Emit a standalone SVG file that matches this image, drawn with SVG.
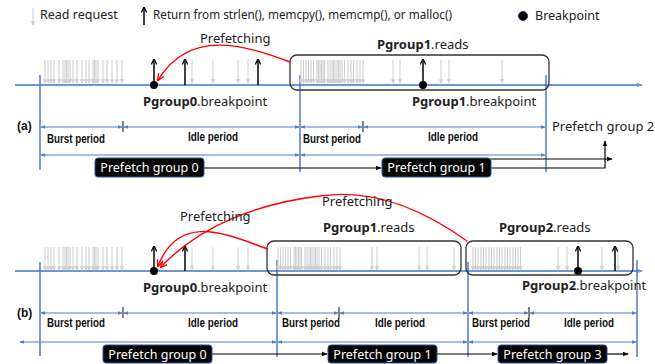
<svg xmlns="http://www.w3.org/2000/svg" width="655" height="364" viewBox="0 0 655 364">
<style>
text{font-family:"Noto Sans","Liberation Sans",sans-serif;fill:#222}
.lg{font-size:12.5px}
.lb{font-size:13px}
.b{font-weight:bold}
.dim{font-family:"Liberation Sans Narrow","Liberation Sans",Arial,sans-serif;font-weight:bold;font-size:12px;fill:#111}
.ab{font-family:"Liberation Sans",Arial,sans-serif;font-weight:bold;font-size:12px;fill:#111}
.pg{font-size:12.5px;fill:#fff}
.tl{stroke:#6f95d6;stroke-width:2;fill:none}
.vl{stroke:#4472c4;stroke-width:1.4;fill:none}
.dl{stroke:#4a7bd0;stroke-width:1;fill:none;marker-start:url(#mb);marker-end:url(#mb)}
.tk{stroke:#333;stroke-width:1.2}
.ga{stroke:#cfcfcf;stroke-width:1.1;fill:none;marker-end:url(#mg)}
.ka{stroke:#000;stroke-width:1.5;fill:none;marker-end:url(#mk)}
.rd{stroke:#f00;stroke-width:1.4;fill:none;marker-end:url(#mr)}
.bx{stroke:#333;stroke-width:1.3;fill:none}
.pb{fill:#050505;stroke:#2f5597;stroke-width:1}
.ln{stroke:#000;stroke-width:1.2;fill:none;marker-end:url(#mk2)}
</style>
<defs>
<marker id="mg" viewBox="0 0 6 6" refX="5" refY="3" markerWidth="4" markerHeight="4" orient="auto" markerUnits="strokeWidth"><path d="M0 0L6 3L0 6z" fill="#cfcfcf"/></marker>
<marker id="mk" viewBox="0 0 8 8" refX="6" refY="4" markerWidth="4" markerHeight="4" orient="auto" markerUnits="strokeWidth"><path d="M0 0.5L8 4L0 7.5" fill="none" stroke="#000" stroke-width="1.6"/></marker>
<marker id="mk2" viewBox="0 0 8 8" refX="7" refY="4" markerWidth="5" markerHeight="5" orient="auto" markerUnits="strokeWidth"><path d="M0 1L8 4L0 7z" fill="#000"/></marker>
<marker id="mr" viewBox="0 0 8 8" refX="7" refY="4" markerWidth="5" markerHeight="5" orient="auto" markerUnits="strokeWidth"><path d="M0 0.5L8 4L0 7.5" fill="none" stroke="#f00" stroke-width="1.5"/></marker>
<marker id="mb" viewBox="0 0 8 8" refX="7" refY="4" markerWidth="5" markerHeight="5" orient="auto-start-reverse" markerUnits="strokeWidth"><path d="M0 1L8 4L0 7z" fill="#4a7bd0"/></marker>
<marker id="mt" viewBox="0 0 8 8" refX="7" refY="4" markerWidth="3" markerHeight="3" orient="auto" markerUnits="strokeWidth"><path d="M0 1L8 4L0 7z" fill="#6f95d6"/></marker>
<path id="ga" class="ga" d="M0 0V23"/>
</defs>

<g id="legend">
<path class="ga" d="M33 8V25"/>
<text class="lg" x="40" y="19">Read request</text>
<path class="ka" d="M144 25V8"/>
<text class="lg" x="153" y="19" textLength="299" lengthAdjust="spacingAndGlyphs">Return from strlen(), memcpy(), memcmp(), or malloc()</text>
<circle cx="523" cy="16" r="4.5" fill="#000" stroke="#203864"/>
<text class="lg" x="535" y="20">Breakpoint</text>
</g>

<!-- ===== (a) ===== -->
<g id="a-timeline">
<path class="tl" d="M15 85H642" marker-end="url(#mt)"/>
<path class="vl" d="M40 75V170M300 75V172M546 75V172"/>
</g>
<g id="a-reads">
<use href="#ga" x="45" y="60"/><use href="#ga" x="48" y="60"/><use href="#ga" x="51" y="60"/><use href="#ga" x="54" y="60"/><use href="#ga" x="59" y="60"/><use href="#ga" x="63" y="60"/><use href="#ga" x="65" y="60"/><use href="#ga" x="66.5" y="60"/><use href="#ga" x="68" y="60"/><use href="#ga" x="70" y="60"/><use href="#ga" x="73" y="60"/><use href="#ga" x="77" y="60"/><use href="#ga" x="82" y="60"/><use href="#ga" x="86" y="60"/><use href="#ga" x="89" y="60"/><use href="#ga" x="93" y="60"/><use href="#ga" x="94.5" y="60"/><use href="#ga" x="96" y="60"/><use href="#ga" x="98" y="60"/><use href="#ga" x="103" y="60"/><use href="#ga" x="107" y="60"/><use href="#ga" x="112" y="60"/><use href="#ga" x="117" y="60"/><use href="#ga" x="122" y="60"/>
<use href="#ga" x="192" y="60"/><use href="#ga" x="213" y="60"/><use href="#ga" x="238" y="60"/><use href="#ga" x="248" y="60"/>
<use href="#ga" x="301" y="60"/><use href="#ga" x="303.5" y="60"/><use href="#ga" x="306" y="60"/><use href="#ga" x="308.5" y="60"/><use href="#ga" x="311" y="60"/><use href="#ga" x="313.5" y="60"/><use href="#ga" x="317" y="60"/><use href="#ga" x="318.5" y="60"/><use href="#ga" x="320" y="60"/><use href="#ga" x="321.5" y="60"/><use href="#ga" x="323" y="60"/><use href="#ga" x="324.5" y="60"/><use href="#ga" x="328" y="60"/><use href="#ga" x="330" y="60"/><use href="#ga" x="332" y="60"/><use href="#ga" x="333.5" y="60"/><use href="#ga" x="335" y="60"/><use href="#ga" x="337" y="60"/><use href="#ga" x="338.5" y="60"/><use href="#ga" x="340" y="60"/><use href="#ga" x="342" y="60"/><use href="#ga" x="344.5" y="60"/><use href="#ga" x="348" y="60"/><use href="#ga" x="351" y="60"/><use href="#ga" x="353.5" y="60"/><use href="#ga" x="357" y="60"/><use href="#ga" x="360" y="60"/><use href="#ga" x="363" y="60"/>
<use href="#ga" x="393" y="60"/><use href="#ga" x="400" y="60"/><use href="#ga" x="441" y="60"/><use href="#ga" x="449" y="60"/><use href="#ga" x="502" y="60"/>
</g>
<g id="a-returns">
<path class="ka" d="M154 85V60"/>
<path class="ka" d="M185 85V60"/>
<path class="ka" d="M258 85V60"/>
<path class="ka" d="M423 85V60"/>
<circle cx="154" cy="85" r="4" fill="#000"/>
<circle cx="423" cy="85" r="4" fill="#000"/>
</g>
<g id="a-pgroup1-reads">
<rect class="bx" x="290" y="55" width="259" height="35" rx="7"/>
<text class="lb" x="377" y="49"><tspan class="b">Pgroup1</tspan>.reads</text>
</g>
<g id="a-connectors">
<path class="rd" d="M290 62C245 45 190 28 158 80"/>
<text class="lb" x="200" y="43">Prefetching</text>
</g>
<g id="a-labels">
<text class="lb" x="143" y="106"><tspan class="b">Pgroup0</tspan>.breakpoint</text>
<text class="lb" x="412" y="106"><tspan class="b">Pgroup1</tspan>.breakpoint</text>
<text class="ab" x="17" y="130">(a)</text>
</g>
<g id="a-periods">
<path class="dl" d="M41 127H122"/>
<path class="dl" d="M124 127H299"/>
<path class="dl" d="M301 127H362"/>
<path class="dl" d="M364 127H545"/>
<path class="tk" d="M123 121V132M363 121V132"/>
<path class="dl" d="M41 155H299"/>
<path class="dl" d="M301 155H545"/>
<text class="dim" x="47" y="143" textLength="58" lengthAdjust="spacingAndGlyphs">Burst period</text>
<text class="dim" x="188" y="141" textLength="50" lengthAdjust="spacingAndGlyphs">Idle period</text>
<text class="dim" x="303" y="143" textLength="58" lengthAdjust="spacingAndGlyphs">Burst period</text>
<text class="dim" x="428" y="141" textLength="50" lengthAdjust="spacingAndGlyphs">Idle period</text>
</g>
<g id="a-groups">
<path class="ln" d="M204 168H381"/>
<path class="ln" d="M491 159H612"/>
<path class="ln" d="M491 168H605V141"/>
<rect class="pb" x="95" y="158" width="109" height="19" rx="3"/>
<text class="pg" x="149.5" y="172" text-anchor="middle">Prefetch group 0</text>
<rect class="pb" x="382" y="158" width="109" height="19" rx="3"/>
<text class="pg" x="436.5" y="172" text-anchor="middle">Prefetch group 1</text>
<text class="lb" x="552" y="131">Prefetch group 2</text>
</g>

<!-- ===== (b) ===== -->
<g id="b-timeline">
<path class="tl" d="M15 271H642" marker-end="url(#mt)"/>
<path class="vl" d="M40 262V356M277 260V357M468 262V357M637 260V357"/>
</g>
<g id="b-reads">
<use href="#ga" x="45" y="247"/><use href="#ga" x="48" y="247"/><use href="#ga" x="51" y="247"/><use href="#ga" x="54" y="247"/><use href="#ga" x="59" y="247"/><use href="#ga" x="63" y="247"/><use href="#ga" x="65" y="247"/><use href="#ga" x="66.5" y="247"/><use href="#ga" x="68" y="247"/><use href="#ga" x="70" y="247"/><use href="#ga" x="73" y="247"/><use href="#ga" x="77" y="247"/><use href="#ga" x="82" y="247"/><use href="#ga" x="86" y="247"/><use href="#ga" x="89" y="247"/><use href="#ga" x="93" y="247"/><use href="#ga" x="94.5" y="247"/><use href="#ga" x="96" y="247"/><use href="#ga" x="98" y="247"/><use href="#ga" x="103" y="247"/><use href="#ga" x="107" y="247"/><use href="#ga" x="112" y="247"/><use href="#ga" x="117" y="247"/><use href="#ga" x="122" y="247"/>
<use href="#ga" x="192" y="247"/><use href="#ga" x="213" y="247"/><use href="#ga" x="238" y="247"/><use href="#ga" x="248" y="247"/>
<use href="#ga" x="278" y="247"/><use href="#ga" x="280.5" y="247"/><use href="#ga" x="283" y="247"/><use href="#ga" x="285.5" y="247"/><use href="#ga" x="288" y="247"/><use href="#ga" x="290.5" y="247"/><use href="#ga" x="294" y="247"/><use href="#ga" x="295.5" y="247"/><use href="#ga" x="297" y="247"/><use href="#ga" x="298.5" y="247"/><use href="#ga" x="300" y="247"/><use href="#ga" x="301.5" y="247"/><use href="#ga" x="305" y="247"/><use href="#ga" x="307" y="247"/><use href="#ga" x="309" y="247"/><use href="#ga" x="310.5" y="247"/><use href="#ga" x="312" y="247"/><use href="#ga" x="314" y="247"/><use href="#ga" x="315.5" y="247"/><use href="#ga" x="317" y="247"/><use href="#ga" x="319" y="247"/><use href="#ga" x="321.5" y="247"/><use href="#ga" x="325" y="247"/><use href="#ga" x="328" y="247"/><use href="#ga" x="330.5" y="247"/><use href="#ga" x="334" y="247"/><use href="#ga" x="337" y="247"/><use href="#ga" x="340" y="247"/>
<use href="#ga" x="372" y="247"/><use href="#ga" x="377" y="247"/><use href="#ga" x="419" y="247"/><use href="#ga" x="427" y="247"/><use href="#ga" x="454" y="247"/>
<use href="#ga" x="473" y="247"/><use href="#ga" x="475.5" y="247"/><use href="#ga" x="478" y="247"/><use href="#ga" x="481" y="247"/><use href="#ga" x="483.5" y="247"/><use href="#ga" x="486" y="247"/><use href="#ga" x="489" y="247"/><use href="#ga" x="491.5" y="247"/><use href="#ga" x="494" y="247"/><use href="#ga" x="497" y="247"/><use href="#ga" x="499.5" y="247"/><use href="#ga" x="502" y="247"/><use href="#ga" x="505" y="247"/><use href="#ga" x="507.5" y="247"/><use href="#ga" x="510" y="247"/><use href="#ga" x="513" y="247"/><use href="#ga" x="515.5" y="247"/><use href="#ga" x="518" y="247"/><use href="#ga" x="520.5" y="247"/>
<use href="#ga" x="558" y="247"/><use href="#ga" x="567" y="247"/><use href="#ga" x="602" y="247"/><use href="#ga" x="618" y="247"/>
</g>
<g id="b-returns">
<path class="ka" d="M154 271V247"/>
<path class="ka" d="M185 271V247"/>
<path class="ka" d="M578 271V247"/>
<path class="ka" d="M615 271V247"/>
<circle cx="154" cy="271" r="4" fill="#000"/>
<circle cx="578" cy="271" r="4" fill="#000"/>
</g>
<g id="b-pgroup1-reads">
<rect class="bx" x="267" y="241" width="194" height="34" rx="7"/>
<text class="lb" x="323" y="232"><tspan class="b">Pgroup1</tspan>.reads</text>
</g>
<g id="b-pgroup2-reads">
<rect class="bx" x="466" y="241" width="167" height="34" rx="7"/>
<text class="lb" x="499" y="232"><tspan class="b">Pgroup2</tspan>.reads</text>
</g>
<g id="b-connectors">
<path class="rd" d="M268 249C230 236 180 210 158 266"/>
<path class="rd" d="M467 241C410 200 360 190 320 196C260 203 200 225 161 267"/>
<text class="lb" x="180" y="221">Prefetching</text>
<text class="lb" x="322" y="206">Prefetching</text>
</g>
<g id="b-labels">
<text class="lb" x="143" y="292"><tspan class="b">Pgroup0</tspan>.breakpoint</text>
<text class="lb" x="522" y="290"><tspan class="b">Pgroup2</tspan>.breakpoint</text>
<text class="ab" x="17" y="317">(b)</text>
</g>
<g id="b-periods">
<path class="dl" d="M41 313H122"/>
<path class="dl" d="M124 313H276"/>
<path class="dl" d="M278 313H338"/>
<path class="dl" d="M340 313H467"/>
<path class="dl" d="M469 313H528"/>
<path class="dl" d="M530 313H636"/>
<path class="tk" d="M123 307V318M339 307V318M529 307V318"/>
<path class="dl" d="M20 342H276"/>
<path class="dl" d="M278 342H467"/>
<path class="dl" d="M469 342H636"/>
<text class="dim" x="47" y="327" textLength="58" lengthAdjust="spacingAndGlyphs">Burst period</text>
<text class="dim" x="188" y="327" textLength="50" lengthAdjust="spacingAndGlyphs">Idle period</text>
<text class="dim" x="282" y="327" textLength="58" lengthAdjust="spacingAndGlyphs">Burst period</text>
<text class="dim" x="375" y="327" textLength="50" lengthAdjust="spacingAndGlyphs">Idle period</text>
<text class="dim" x="472" y="327" textLength="58" lengthAdjust="spacingAndGlyphs">Burst period</text>
<text class="dim" x="564" y="327" textLength="50" lengthAdjust="spacingAndGlyphs">Idle period</text>
</g>
<g id="b-groups">
<path class="ln" d="M212 354H327"/>
<path class="ln" d="M437 354H497"/>
<path class="ln" d="M607 354H628"/>
<rect class="pb" x="103" y="345" width="109" height="18" rx="3"/>
<text class="pg" x="157.5" y="358.5" text-anchor="middle">Prefetch group 0</text>
<rect class="pb" x="328" y="345" width="109" height="18" rx="3"/>
<text class="pg" x="382.5" y="358.5" text-anchor="middle">Prefetch group 1</text>
<rect class="pb" x="498" y="345" width="109" height="18" rx="3"/>
<text class="pg" x="552.5" y="358.5" text-anchor="middle">Prefetch group 3</text>
</g>
</svg>
